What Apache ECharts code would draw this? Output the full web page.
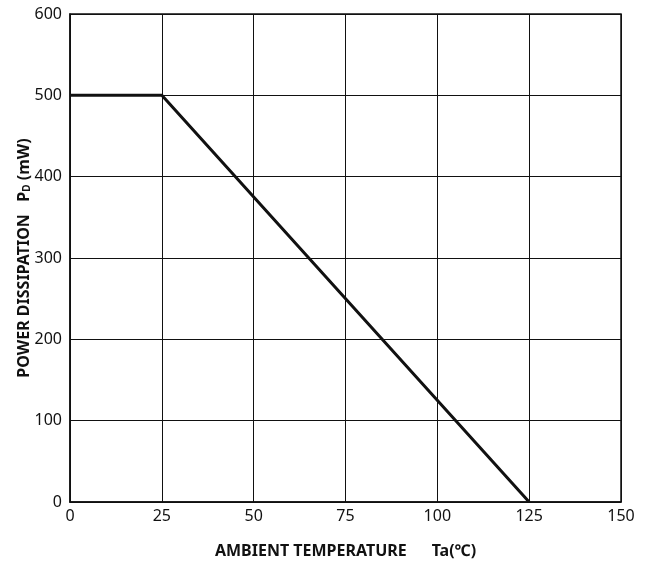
<!DOCTYPE html>
<html><head><meta charset="utf-8">
<script src="https://cdn.jsdelivr.net/npm/echarts@6/dist/echarts.min.js"></script>
<style>html,body{margin:0;padding:0;background:#fff}#c{width:649px;height:565px}</style>
</head><body><div id="c"></div>
<script>
const temps = [0, 25, 125];
const power = [500, 500, 0];
const xTicks = [0, 25, 50, 75, 100, 125, 150];
const yTicks = [0, 100, 200, 300, 400, 500, 600];

const chart = echarts.init(document.getElementById('c'), null, {renderer: 'canvas'});
const font = "'Noto Sans', 'Open Sans', sans-serif";
chart.setOption({
  animation: false,
  backgroundColor: '#fff',
  grid: {left: 70, right: 28, top: 14, bottom: 63, show: true, borderColor: '#111', borderWidth: 1.5},
  xAxis: {
    type: 'value', min: xTicks[0], max: xTicks[xTicks.length-1], interval: 25,
    name: 'AMBIENT TEMPERATURE      Ta(℃)', nameLocation: 'middle', nameGap: 41,
    nameTextStyle: {fontFamily: font, fontWeight: 'bold', fontSize: 16, color: '#111'},
    axisLine: {show: true, lineStyle: {color: '#111', width: 1.5}},
    axisTick: {show: false},
    axisLabel: {fontFamily: font, fontSize: 16, color: '#111', margin: 6},
    splitLine: {show: true, lineStyle: {color: '#111', width: 1}}
  },
  yAxis: {
    type: 'value', min: yTicks[0], max: yTicks[yTicks.length-1], interval: 100,
    name: '{b|POWER DISSIPATION   P}{s|D}{b| (mW)}', nameLocation: 'middle', nameGap: 38,
    nameMoveOverlap: false,
    nameTextStyle: {
      fontFamily: font, color: '#111',
      rich: {
        b: {fontFamily: font, fontWeight: 'bold', fontSize: 16, color: '#111'},
        s: {fontFamily: font, fontWeight: 'bold', fontSize: 10, color: '#111', verticalAlign: 'bottom', padding: [6,0,0,0]}
      }
    },
    axisLine: {show: true, lineStyle: {color: '#111', width: 1.5}},
    axisTick: {show: false},
    axisLabel: {fontFamily: font, fontSize: 16, color: '#111', margin: 8},
    splitLine: {show: true, lineStyle: {color: '#111', width: 1}}
  },
  series: [{
    type: 'line',
    data: temps.map((t, i) => [t, power[i]]),
    symbol: 'none',
    lineStyle: {color: '#111', width: 3},
    z: 5
  }]
});
</script></body></html>
